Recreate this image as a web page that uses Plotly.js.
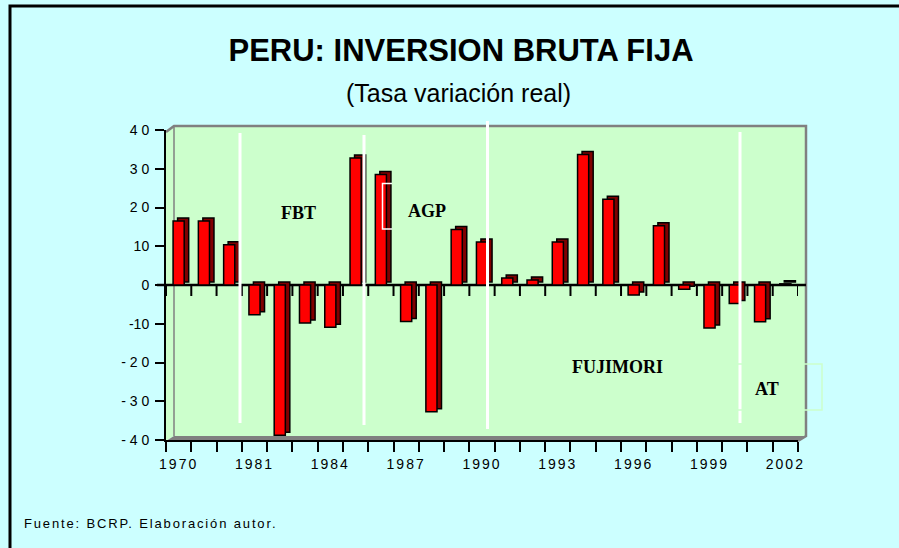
<!DOCTYPE html>
<html>
<head>
<meta charset="utf-8">
<script src="https://cdn.plot.ly/plotly-3.0.1.min.js"></script>
<style>html,body{margin:0;padding:0;background:#CCFFFF;}</style>
</head>
<body>
<div id="chart" style="width:899px;height:548px;"></div>
<script>
// ---- data ----
const years = ['1970','1975','1980','1981','1982','1983','1984','1985','1986','1987','1988','1989','1990',
               '1991','1992','1993','1994','1995','1996','1997','1998','1999','2000','2001','2002'];
const tasa = [16.5, 16.5, 10.4, -7.7, -38.8, -9.8, -10.9, 32.8, 28.5, -9.4, -32.7, 14.3, 11.1,
              1.8, 1.3, 11.1, 33.7, 22.1, -2.6, 15.3, -1.1, -11.1, -4.8, -9.5, 0.3];
const labeledYears = ['1970','1981','1984','1987','1990','1993','1996','1999','2002'];
const yTickVals = [-40,-30,-20,-10,0,10,20,30,40];
const yTickText = ['- 4 0','- 3 0','- 2 0','-10','0','10','2 0','3 0','4 0'];
const periods = [
  {name:'FBT', px:298, py:213},
  {name:'AGP', px:427, py:211},
  {name:'FUJIMORI', px:617, py:367},
  {name:'AT', px:767, py:389}
];

// ---- helpers (pixel -> paper) ----
const W = 899, H = 548;
const fx = x => x / W;
const fy = y => 1 - y / H;
const path = pts => pts.map((p,i)=>(i?'L':'M')+fx(p[0]).toFixed(5)+','+fy(p[1]).toFixed(5)).join(' ');

const sans = 'Liberation Sans, Arial, sans-serif';
const serif = 'Liberation Serif, Times New Roman, serif';

const xText = years.map(y => labeledYears.includes(y) ?
  '<span style="letter-spacing:2px">' + y + '</span>' : '');

const traces = [
  { type:'bar', x: years, y: tasa, xaxis:'x2', yaxis:'y2', width:0.44,
    marker:{color:'#800000', line:{color:'#000000', width:1.5}}, hoverinfo:'skip' },
  { type:'bar', x: years, y: tasa, xaxis:'x3', yaxis:'y3', width:0.44,
    marker:{color:'#FF0000', line:{color:'#000000', width:1.5}} }
];

const shapes = [];
// back wall
shapes.push({type:'rect', xref:'paper', yref:'paper', x0:fx(174), x1:fx(806), y0:fy(436), y1:fy(126),
  fillcolor:'#CCFFCC', line:{width:0}, layer:'below'});
// side wall
shapes.push({type:'path', xref:'paper', yref:'paper', path: path([[166,132],[174,126],[174,436],[166,441]])+' Z',
  fillcolor:'#CCFFCC', line:{width:0}, layer:'below'});
// floor
shapes.push({type:'path', xref:'paper', yref:'paper', path: path([[166,441],[174,436],[806,436],[798,441]])+' Z',
  fillcolor:'#808080', line:{width:0}, layer:'below'});
// gray edges
shapes.push({type:'path', xref:'paper', yref:'paper', path: path([[166,132],[174,126],[806,126],[806,436],[798,441]]),
  line:{color:'#808080', width:2.5}, layer:'below'});
shapes.push({type:'line', xref:'paper', yref:'paper', x0:fx(174), x1:fx(174), y0:fy(126), y1:fy(436),
  line:{color:'#808080', width:1.5}, layer:'below'});
// zero line
shapes.push({type:'line', xref:'paper', yref:'y3', x0:fx(157), x1:fx(806), y0:0, y1:0,
  line:{color:'#000000', width:2.5}, layer:'below'});
// zero-line ticks at category boundaries
for (let i = 0; i <= years.length; i++) {
  shapes.push({type:'line', xref:'x3', yref:'y3', ysizemode:'pixel', yanchor:0,
    x0:i-0.5, x1:i-0.5, y0:0, y1:-11, line:{color:'#000000', width:2}, layer:'below'});
}
// white period dividers
[[240,133,423],[364,135,425],[487.5,121,429],[740,132,423]].forEach(v=>{
  shapes.push({type:'line', xref:'paper', yref:'paper', x0:fx(v[0]), x1:fx(v[0]), y0:fy(v[1]), y1:fy(v[2]),
    line:{color:'#FFFFFF', width:3}, layer:'above'});
});
// AGP text box fragment
shapes.push({type:'path', xref:'paper', yref:'paper', path: path([[392,183.5],[382.5,183.5],[382.5,229],[392,229]]),
  line:{color:'#FFFFFF', width:1.5}, layer:'above'});
// AT text box
shapes.push({type:'rect', xref:'paper', yref:'paper', x0:fx(731), x1:fx(822), y0:fy(410), y1:fy(364),
  line:{color:'#CCFFCC', width:1.5}, layer:'above'});
// outer frame (left + top)
shapes.push({type:'path', xref:'paper', yref:'paper', path: path([[10,548],[10,6],[899,6]]),
  line:{color:'#000000', width:3}, layer:'above'});

const annotations = [
  {text:'(Tasa variación real)', xref:'paper', yref:'paper', x:fx(459), y:fy(93), xanchor:'center', yanchor:'middle',
   showarrow:false, font:{family:sans, size:25, color:'#000000'}},
  {text:'<span style="letter-spacing:1.85px">Fuente: BCRP. Elaboración autor.</span>', xref:'paper', yref:'paper',
   x:fx(22), y:fy(523), xanchor:'left', yanchor:'middle', showarrow:false,
   font:{family:sans, size:13, color:'#000000'}}
];
periods.forEach(p => annotations.push({text:p.name, xref:'paper', yref:'paper', x:fx(p.px), y:fy(p.py),
  xanchor:'center', yanchor:'middle', showarrow:false,
  font:{family:serif, size:18, color:'#000000', weight:'bold'}}));

const layout = {
  width:W, height:H, margin:{l:0,r:0,t:0,b:0},
  paper_bgcolor:'#CCFFFF', plot_bgcolor:'rgba(0,0,0,0)', showlegend:false,
  title:{text:'<b>PERU: INVERSION BRUTA FIJA</b>', x:fx(461), xanchor:'center', y:fy(50), yanchor:'middle',
         font:{family:sans, size:31, color:'#000000'}},
  xaxis:{domain:[fx(174), fx(806)], anchor:'y', range:[-0.5,24.5], showgrid:false, zeroline:false,
         showticklabels:false, ticks:'', showline:false, fixedrange:true},
  yaxis:{domain:[fy(436), fy(126)], anchor:'x', range:[-40,40], tickvals:[-30,-20,-10,10,20,30],
         showgrid:true, gridcolor:'#FFFFFF', gridwidth:2, zeroline:false, showticklabels:false, ticks:'',
         showline:false, fixedrange:true},
  xaxis2:{domain:[fx(170.5), fx(802.5)], anchor:'y2', type:'category', categoryarray:years, range:[-0.5,24.5],
          visible:false, fixedrange:true},
  yaxis2:{domain:[fy(437), fy(127)], anchor:'x2', range:[-40,40], visible:false, fixedrange:true},
  xaxis3:{domain:[fx(166), fx(798)], anchor:'y3', type:'category', categoryarray:years, range:[-0.5,24.5],
          tickmode:'array', tickvals:years, ticktext:xText, tickson:'boundaries', tickangle:0,
          ticks:'outside', ticklen:10, tickwidth:2, tickcolor:'#000000',
          showline:true, linecolor:'#000000', linewidth:2, showgrid:false, zeroline:false,
          tickfont:{family:sans, size:14, color:'#000000'}, ticklabelstandoff:10, fixedrange:true},
  yaxis3:{domain:[fy(440), fy(130)], anchor:'x3', range:[-40,40],
          tickmode:'array', tickvals:yTickVals, ticktext:yTickText,
          ticks:'outside', ticklen:9, tickwidth:2, tickcolor:'#000000',
          showline:true, linecolor:'#000000', linewidth:2, showgrid:false, zeroline:false,
          tickfont:{family:sans, size:14, color:'#000000'}, ticklabelstandoff:3, fixedrange:true},
  bargap:0.56,
  shapes:shapes,
  annotations:annotations
};

Plotly.newPlot('chart', traces, layout, {displayModeBar:false, staticPlot:true});
</script>
</body>
</html>
